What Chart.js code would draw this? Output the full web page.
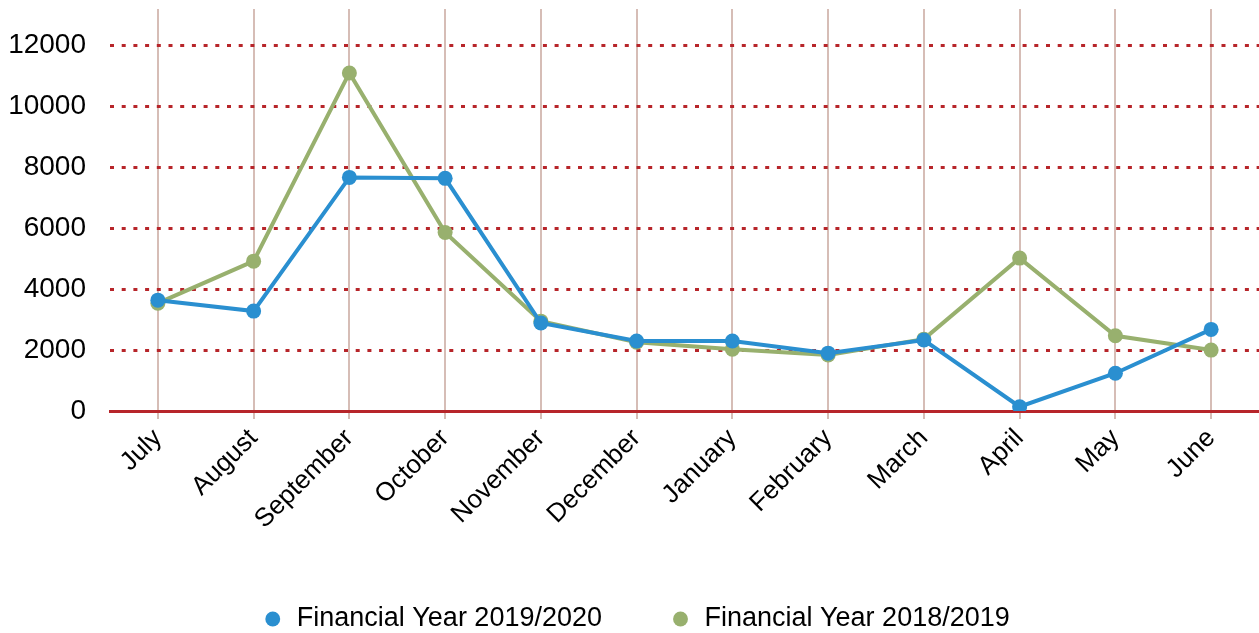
<!DOCTYPE html>
<html>
<head>
<meta charset="utf-8">
<script src="https://cdn.jsdelivr.net/npm/chart.js@4"></script>
<style>
  html, body { margin: 0; padding: 0; background: #fff; }
  #wrap { width: 1259px; height: 633px; position: relative; }
</style>
</head>
<body>
<div id="wrap"><canvas id="chart"></canvas></div>
<script>
const months = ["July", "August", "September", "October", "November", "December",
  "January", "February", "March", "April", "May", "June"];
const fy1920 = [3640, 3280, 7670, 7640, 2890, 2300, 2300, 1900, 2330, 140, 1240, 2680];
const fy1819 = [3540, 4920, 11100, 5860, 2950, 2260, 2030, 1840, 2360, 5020, 2470, 2000];
const yTickValues = [0, 2000, 4000, 6000, 8000, 10000, 12000];

const blue = "#2a8fd0";
const green = "#98b06e";

// nudge the legend a little to the right, like the original
const legendShift = {
  id: "legendShift",
  afterLayout(chart) {
    chart.legend.left += 13;
  },
};

let myChart = new Chart(document.getElementById("chart"), {
  type: "line",
  plugins: [legendShift],
  data: {
    labels: months,
    datasets: [
      {
        label: "Financial Year 2019/2020",
        data: fy1920,
        borderColor: blue,
        backgroundColor: blue,
        pointBackgroundColor: blue,
        pointBorderColor: blue,
        borderWidth: 4,
        pointRadius: 7.5,
        pointBorderWidth: 0,
        tension: 0,
      },
      {
        label: "Financial Year 2018/2019",
        data: fy1819,
        borderColor: green,
        backgroundColor: green,
        pointBackgroundColor: green,
        pointBorderColor: green,
        borderWidth: 4,
        pointRadius: 7.5,
        pointBorderWidth: 0,
        tension: 0,
      },
    ],
  },
  options: {
    responsive: true,
    maintainAspectRatio: false,
    animation: false,
    layout: {
      autoPadding: false,
      padding: { top: 9, right: 0, left: 0, bottom: -9.5 },
    },
    scales: {
      x: {
        offset: true,
        afterFit: (s) => {
          s.height = 126.5;
          s.paddingLeft = 0;
          s.paddingRight = 0;
        },
        grid: {
          color: "#d6bdb6",
          lineWidth: 2,
          drawTicks: true,
          tickLength: 8,
        },
        border: { display: true, color: "#b7252a", width: 3 },
        ticks: {
          minRotation: 45,
          maxRotation: 45,
          padding: 4,
          color: "#000",
          font: { family: "Liberation Sans", size: 26 },
        },
      },
      y: {
        min: 0,
        max: 13200,
        afterFit: (s) => {
          s.width = 110;
          s.paddingTop = 0;
          s.paddingBottom = 0;
        },
        afterBuildTicks: (s) => {
          s.ticks = yTickValues.map((v) => ({ value: v }));
        },
        grid: {
          drawTicks: false,
          lineWidth: 3,
          color: (ctx) => (ctx.tick && ctx.tick.value === 0 ? "rgba(0,0,0,0)" : "#b7252a"),
        },
        border: { display: false, dash: [4, 7.7] },
        ticks: {
          padding: 24,
          color: "#000",
          callback: (v) => String(v),
          font: { family: "Liberation Sans", size: 28 },
        },
      },
    },
    plugins: {
      legend: {
        position: "bottom",
        labels: {
          usePointStyle: true,
          pointStyle: "circle",
          boxWidth: 21,
          boxHeight: 10.5,
          padding: 68,
          color: "#000",
          font: { family: "Liberation Sans", size: 27 },
        },
      },
      tooltip: { enabled: false },
    },
  },
});
</script>
</body>
</html>
